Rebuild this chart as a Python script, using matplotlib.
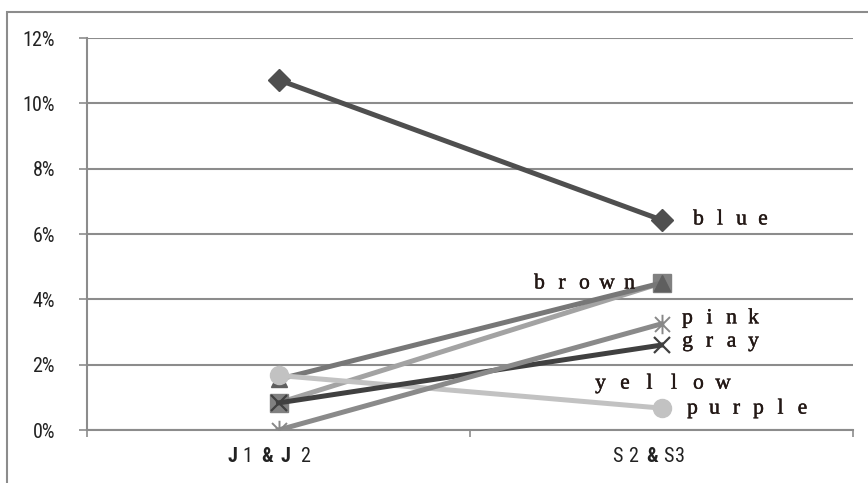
import matplotlib
matplotlib.use("Agg")
import matplotlib.pyplot as plt
import matplotlib.patheffects as pe
from matplotlib import font_manager
from matplotlib.path import Path
from matplotlib.patches import Rectangle

categories = ["J1&J2", "S2&S3"]

blue = [0.1072, 0.0643]
brown = [0.0155, 0.0450]
yellow = [0.0083, 0.0450]
gray = [0.0083, 0.0260]
pink = [0.0000, 0.0325]
purple = [0.0167, 0.0067]

y_ticks = [0, 0.02, 0.04, 0.06, 0.08, 0.10, 0.12]

installed = {f.name for f in font_manager.fontManager.ttflist}
narrow = next((n for n in ["Liberation Sans Narrow", "Roboto Condensed",
                           "Liberation Sans", "Roboto"] if n in installed),
              "DejaVu Sans")
serif = "Liberation Serif"
ink = "#231815"

# Excel-style asterisk: an X with a vertical bar through it
asterisk = Path(
    [(-1, -1), (1, 1), (-1, 1), (1, -1), (0, -1.3), (0, 1.3)],
    [Path.MOVETO, Path.LINETO, Path.MOVETO, Path.LINETO, Path.MOVETO, Path.LINETO],
)

fig = plt.figure(figsize=(8.68, 4.83), dpi=100)
ax = fig.add_axes([87 / 868, 53 / 483, 766 / 868, 392 / 483])

x = [0, 1]
lw = 3.6
ax.plot(x, yellow, color="#a3a3a3", lw=lw, marker="s", ms=12.5,
        mfc="#808080", mec="#808080", zorder=3)
ax.plot(x, brown, color="#777777", lw=lw, marker="^", ms=12,
        mfc="#5f5f5f", mec="#5f5f5f", zorder=4)
ax.plot(x, purple, color="#c2c2c2", lw=lw, marker="o", ms=13,
        mfc="#c2c2c2", mec="#c2c2c2", zorder=5)
ax.plot(x, gray, color="#404040", lw=lw, marker="x", ms=12,
        mew=1.6, mec="#404040", zorder=6)
ax.plot(x, pink, color="#8a8a8a", lw=lw, marker=asterisk, ms=14,
        mew=1.4, mec="#888888", zorder=6)
ax.plot(x, blue, color="#4f4f4f", lw=lw, marker="D", ms=11,
        mfc="#4f4f4f", mec="#4f4f4f", zorder=7)


def spaced(text, xy, offsets, dy, size=15.5, weights=None, color=ink,
           family=serif, heavy=True):
    # one character per slot, like full-width lettering
    for i, ch in enumerate(text):
        w = weights[i] if weights else "normal"
        t = ax.annotate(ch, xy=xy, xytext=(offsets[i], dy),
                        textcoords="offset pixels", ha="center", va="center",
                        fontsize=size, fontfamily=family, fontweight=w,
                        color=color, annotation_clip=False, zorder=8)
        if heavy:
            t.set_path_effects([pe.withStroke(linewidth=0.3, foreground=color)])


def pitch(start, step, n):
    return [start + i * step for i in range(n)]


spaced("blue", (1, blue[1]), pitch(37, 21.5, 4), 0)
spaced("brown", (1, brown[1]), pitch(-122, 22.5, 5), -1)
spaced("pink", (1, pink[1]), pitch(26, 22, 4), 5)
spaced("gray", (1, gray[1]), pitch(26, 22, 4), 3)
spaced("yellow", (1, purple[1]), pitch(-61, 24.5, 6), 24)
spaced("purple", (1, purple[1]), pitch(31, 22, 6), -1)

ax.set_xlim(-0.5, 1.5)
ax.set_ylim(0, 0.12)
ax.set_yticks(y_ticks)
ax.set_yticklabels([f"{v * 100:.0f}%" for v in y_ticks],
                   fontfamily=narrow, fontsize=14.5, color="#222222")
ax.yaxis.grid(True, color="#8c8c8c", lw=1.5)
ax.set_axisbelow(True)

ax.set_xticks([-0.5, 0.5, 1.5])
ax.set_xticklabels([])
ax.tick_params(axis="x", length=5, color="#8c8c8c", width=1.2, direction="out")
ax.tick_params(axis="y", length=6, color="#8c8c8c", width=1.2, pad=17)

# category labels under the axis
spaced("J1&J2", (0, 0), [-46, -31, -11, 7, 27], -27, size=14.5,
       weights=["bold", "normal", "bold", "bold", "normal"],
       family=narrow, color="#222222", heavy=False)
spaced("S2&S3", (1, 0), [-44, -28, -9, 7, 19], -27, size=14.5,
       weights=["normal", "normal", "bold", "normal", "normal"],
       family=narrow, color="#222222", heavy=False)

for side in ["top", "right"]:
    ax.spines[side].set_visible(False)
for side in ["left", "bottom"]:
    ax.spines[side].set_color("#8c8c8c")
    ax.spines[side].set_linewidth(1.5)

# chart-area border
fig.patches.append(Rectangle((7 / 868, -0.2), 1.2, 1.2 - 12 / 483,
                             transform=fig.transFigure, fill=False,
                             ec="#8c8c8c", lw=1.5))

fig.savefig("out.png", dpi=100)
